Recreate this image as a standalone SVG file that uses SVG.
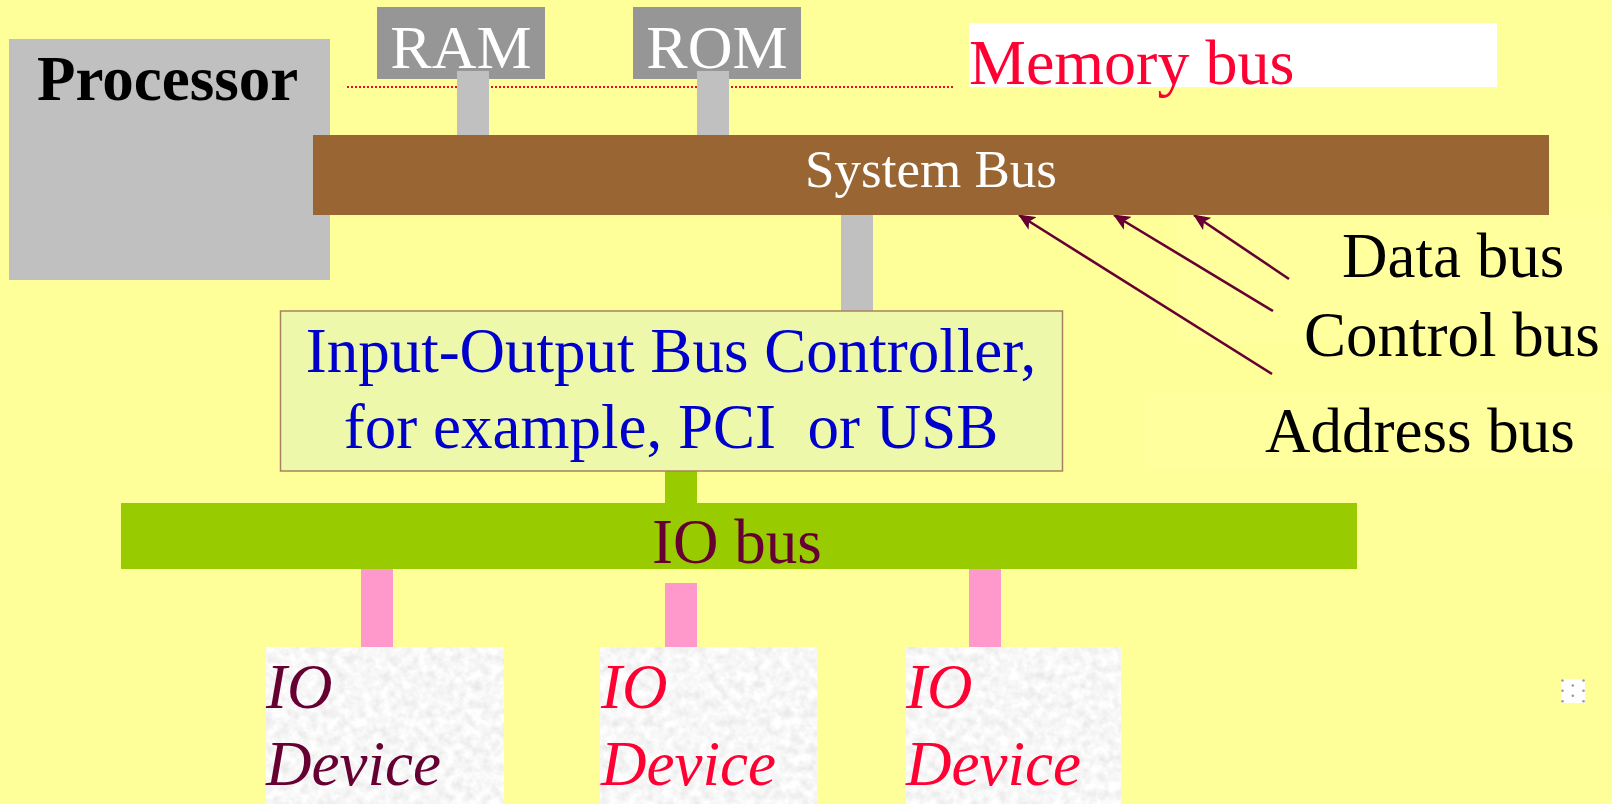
<svg xmlns="http://www.w3.org/2000/svg" width="1612" height="804" viewBox="0 0 1612 804">
  <style>
    .serif { font-family: "Liberation Serif", "Times New Roman", serif; }
    .lbl { font-family: "Liberation Serif", "Times New Roman", serif; font-size: 63px; fill: #000000; }
    .stem-grey { fill: #C0C0C0; }
    .stem-pink { fill: #FF99CC; }
    .mem { fill: #969696; }
    .memtxt { font-family: "Liberation Serif", "Times New Roman", serif; font-size: 62px; fill: #FFFFFF; text-anchor: middle; }
    .dev { filter: url(#stone); fill: #EEEEEE; }
    .devtxt { font-family: "Liberation Serif", "Times New Roman", serif; font-size: 63px; font-style: italic; }
    .wire { stroke: #660033; stroke-width: 2.6; fill: none; marker-end: url(#head); }
  </style>
  <defs>
    <marker id="head" markerWidth="17" markerHeight="15" refX="16" refY="7.5" orient="auto" markerUnits="userSpaceOnUse">
      <path d="M0,0 L17,7.5 L0,15 L4,7.5 Z" fill="#660033"/>
    </marker>
    <filter id="stone" x="0" y="0" width="100%" height="100%">
      <feTurbulence type="fractalNoise" baseFrequency="0.11" numOctaves="3" seed="7" result="noise"/>
      <feColorMatrix in="noise" type="matrix" values="0.32 0 0 0 0.77  0.32 0 0 0 0.77  0.32 0 0 0 0.77  0 0 0 0 1" result="grain"/>
      <feComposite in="grain" in2="SourceGraphic" operator="in"/>
    </filter>
    <filter id="soft" x="-50%" y="-50%" width="200%" height="200%">
      <feGaussianBlur stdDeviation="0.6"/>
    </filter>
  </defs>

  <!-- page background -->
  <rect x="0" y="0" width="1612" height="804" fill="#FFFF99"/>

  <!-- faint label panels on the right -->
  <rect x="1177" y="215" width="435" height="128" fill="#FFFF9E"/>
  <rect x="1145" y="392" width="467" height="78" fill="#FFFF9E"/>

  <!-- memory bus marker line -->
  <line x1="347" y1="87" x2="953" y2="87" stroke="#FF0033" stroke-width="2" stroke-dasharray="2 2"/>

  <g id="processor">
    <rect x="9" y="39" width="321" height="241" fill="#C0C0C0"/>
    <text class="serif" x="37" y="100" font-size="63" font-weight="bold" fill="#000000">Processor</text>
  </g>

  <g id="ram">
    <rect class="mem" x="377" y="7" width="168" height="72"/>
    <text class="memtxt" x="461" y="68">RAM</text>
  </g>

  <g id="rom">
    <rect class="mem" x="633" y="7" width="168" height="72"/>
    <text class="memtxt" x="717" y="68">ROM</text>
  </g>

  <g id="memory-bus-label">
    <rect x="969" y="23" width="528" height="64" fill="#FFFFFF"/>
    <text class="serif" x="969" y="84" font-size="64" fill="#FF0033">Memory bus</text>
  </g>

  <g id="connectors">
    <!-- memory stems -->
    <rect class="stem-grey" x="457" y="71" width="32" height="64"/>
    <rect class="stem-grey" x="697" y="71" width="32" height="64"/>
    <!-- system bus to IO controller -->
    <rect class="stem-grey" x="841" y="215" width="32" height="96"/>
    <!-- IO controller to IO bus -->
    <rect x="665" y="471" width="32" height="32" fill="#99CC00"/>
    <!-- IO bus to devices -->
    <rect class="stem-pink" x="361" y="567" width="32" height="80"/>
    <rect class="stem-pink" x="665" y="583" width="32" height="64"/>
    <rect class="stem-pink" x="969" y="567" width="32" height="80"/>
    <!-- bus line pointers -->
    <line class="wire" x1="1289" y1="279" x2="1194" y2="215"/>
    <line class="wire" x1="1273" y1="311" x2="1114" y2="215"/>
    <line class="wire" x1="1272" y1="374" x2="1019" y2="215"/>
  </g>

  <g id="system-bus">
    <rect x="313" y="135" width="1236" height="80" fill="#996633"/>
    <text class="serif" x="931" y="187" font-size="53" fill="#FFFFFF" text-anchor="middle">System Bus</text>
  </g>

  <g id="bus-labels">
    <text class="lbl" x="1342" y="277" font-size="62">Data bus</text>
    <text class="lbl" x="1304" y="356">Control bus</text>
    <text class="lbl" x="1265" y="452">Address bus</text>
  </g>

  <g id="io-controller">
    <rect x="280.5" y="311" width="782" height="160" fill="#EEF8AA" stroke="#A8825E" stroke-width="1.5"/>
    <text class="serif" x="671" y="372" font-size="63" fill="#0000CC" text-anchor="middle">Input-Output Bus Controller,</text>
    <text class="serif" x="671" y="448" font-size="63" fill="#0000CC" text-anchor="middle">for example, PCI&#160; or USB</text>
  </g>

  <g id="io-bus">
    <rect x="121" y="503" width="1236" height="66" fill="#99CC00"/>
    <text class="serif" x="652" y="563" font-size="63" fill="#660033">IO bus</text>
  </g>

  <g id="io-device-1">
    <rect class="dev" x="266" y="647" width="238" height="157"/>
    <text class="devtxt" x="266" y="708" fill="#660033">IO</text>
    <text class="devtxt" x="266" y="785" fill="#660033">Device</text>
  </g>

  <g id="io-device-2">
    <rect class="dev" x="600" y="647" width="217" height="157"/>
    <text class="devtxt" x="601" y="708" fill="#FF0033">IO</text>
    <text class="devtxt" x="601" y="785" fill="#FF0033">Device</text>
  </g>

  <g id="io-device-3">
    <rect class="dev" x="906" y="647" width="215" height="157"/>
    <text class="devtxt" x="906" y="708" fill="#FF0033">IO</text>
    <text class="devtxt" x="906" y="785" fill="#FF0033">Device</text>
  </g>

  <!-- small dotted handle glyph -->
  <g id="handle">
    <rect x="1561" y="679" width="24" height="24" fill="#FFFFFF"/>
    <g fill="#9A9A9A" filter="url(#soft)">
      <circle cx="1562.5" cy="680.5" r="1.3"/>
      <circle cx="1562.5" cy="690.8" r="1.3"/>
      <circle cx="1562.5" cy="701.2" r="1.3"/>
      <circle cx="1583.5" cy="680.5" r="1.3"/>
      <circle cx="1583.5" cy="690.8" r="1.3"/>
      <circle cx="1583.5" cy="701.2" r="1.3"/>
      <circle cx="1572.8" cy="685.5" r="1.3"/>
      <circle cx="1572.8" cy="695.8" r="1.3"/>
    </g>
  </g>
</svg>
